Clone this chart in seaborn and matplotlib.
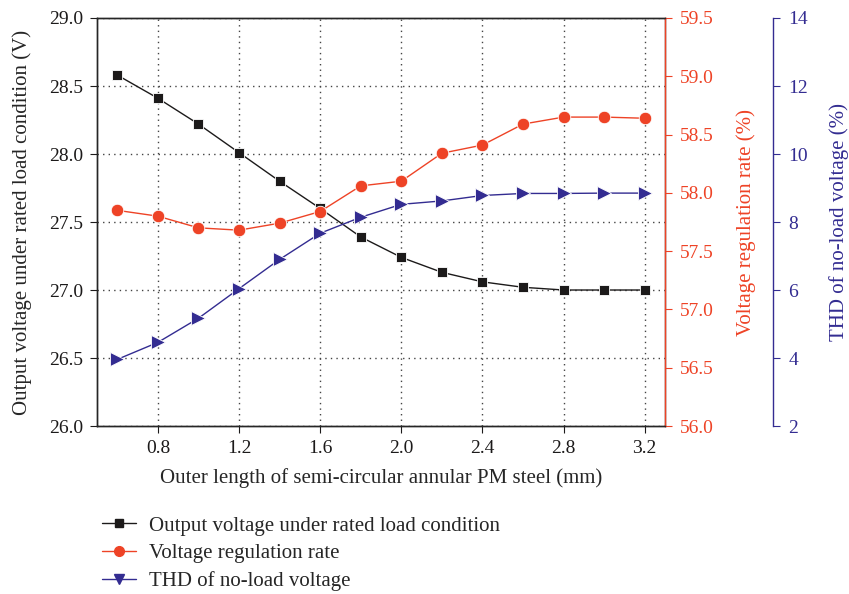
import matplotlib
matplotlib.use("Agg")
import matplotlib.pyplot as plt
import seaborn as sns
from matplotlib.lines import Line2D

# data
pm_length = [0.6, 0.8, 1.0, 1.2, 1.4, 1.6, 1.8, 2.0, 2.2, 2.4, 2.6, 2.8, 3.0, 3.2]
output_voltage = [28.58, 28.41, 28.22, 28.01, 27.80, 27.60, 27.39, 27.24, 27.13, 27.06, 27.02, 27.00, 27.00, 27.00]
regulation_rate = [57.85, 57.80, 57.70, 57.68, 57.74, 57.84, 58.06, 58.10, 58.34, 58.41, 58.59, 58.65, 58.65, 58.64]
thd = [3.96, 4.46, 5.17, 6.04, 6.90, 7.67, 8.14, 8.52, 8.62, 8.78, 8.84, 8.84, 8.85, 8.85]

BLACK = "#1c1a1a"
RED = "#ee4326"
BLUE = "#332c91"

sns.set_style("ticks")
plt.rcParams["font.family"] = ["Liberation Serif", "DejaVu Serif"]
plt.rcParams["font.size"] = 14

fig = plt.figure(figsize=(8.49, 5.94), dpi=100)
ax = fig.add_axes([0.1143, 0.2828, 0.669, 0.6869])
ax2 = ax.twinx()
ax3 = ax.twinx()
ax3.spines["right"].set_position(("axes", 1.19))

sns.lineplot(x=pm_length, y=output_voltage, ax=ax, color=BLACK, marker="s",
             markersize=7.5, markeredgecolor="white", markeredgewidth=0.6, linewidth=1)
sns.lineplot(x=pm_length, y=regulation_rate, ax=ax2, color=RED, marker="o",
             markersize=9, markeredgecolor="white", markeredgewidth=0.6, linewidth=1)
sns.lineplot(x=pm_length, y=thd, ax=ax3, color=BLUE, marker=">",
             markersize=10, markeredgecolor="white", markeredgewidth=0.6, linewidth=1)

ax.set_xlim(0.5, 3.3)
ax.set_xticks([0.8, 1.2, 1.6, 2.0, 2.4, 2.8, 3.2])
ax.set_ylim(26.0, 29.0)
ax.set_yticks([26.0, 26.5, 27.0, 27.5, 28.0, 28.5, 29.0])
ax.yaxis.set_major_formatter(matplotlib.ticker.FormatStrFormatter("%.1f"))
ax.xaxis.set_major_formatter(matplotlib.ticker.FormatStrFormatter("%.1f"))
ax.grid(True, linestyle=(0, (1, 3)), color="#444444", linewidth=1)
ax.set_xlabel("Outer length of semi-circular annular PM steel (mm)", fontsize=15, labelpad=8)
ax.set_ylabel("Output voltage under rated load condition (V)", fontsize=15, labelpad=12)
ax.tick_params(colors=BLACK, labelsize=14, length=5, pad=5)

ax2.set_ylim(56.0, 59.5)
ax2.set_yticks([56.0, 56.5, 57.0, 57.5, 58.0, 58.5, 59.0, 59.5])
ax2.yaxis.set_major_formatter(matplotlib.ticker.FormatStrFormatter("%.1f"))
ax2.set_ylabel("Voltage regulation rate (%)", color=RED, fontsize=15, labelpad=16)
ax2.tick_params(axis="y", colors=RED, labelsize=14, length=5, pad=6)
ax2.spines["right"].set_color(RED)

ax3.set_ylim(2, 14)
ax3.set_yticks([2, 4, 6, 8, 10, 12, 14])
ax3.set_ylabel("THD of no-load voltage (%)", color=BLUE, fontsize=15, labelpad=15)
ax3.tick_params(axis="y", colors=BLUE, labelsize=14, length=5, pad=6)
ax3.spines["right"].set_color(BLUE)
for s in ["top", "left", "bottom"]:
    ax3.spines[s].set_visible(False)

for a in (ax, ax2, ax3):
    for s in a.spines.values():
        s.set_linewidth(1)

handles = [
    Line2D([], [], color=BLACK, marker="s", markersize=6, linewidth=1),
    Line2D([], [], color=RED, marker="o", markersize=7, linewidth=1),
    Line2D([], [], color=BLUE, marker="v", markersize=7, linewidth=1),
]
labels = ["Output voltage under rated load condition",
          "Voltage regulation rate",
          "THD of no-load voltage"]
fig.legend(handles, labels, loc="upper left", bbox_to_anchor=(0.098, 0.163),
           frameon=False, fontsize=15, handlelength=1.65, handletextpad=0.6,
           labelspacing=0.38)

fig.savefig("out.png", dpi=100)
